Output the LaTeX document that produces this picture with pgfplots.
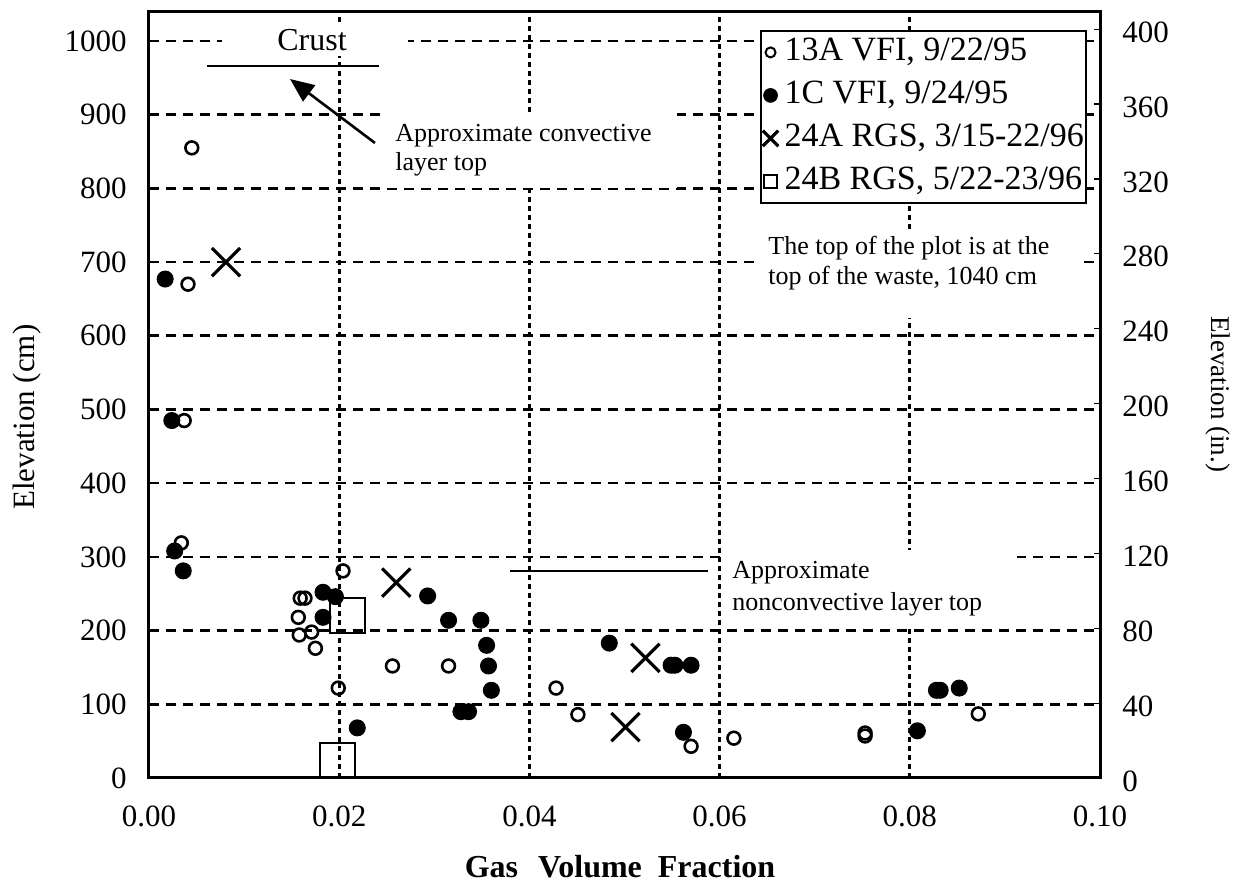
\documentclass[border=0pt]{standalone}
\usepackage{fontspec}
\setmainfont{Liberation Serif}
\usepackage{pgfplots}
\pgfplotsset{compat=1.18}
\usetikzlibrary{arrows.meta}

\pgfplotsset{
  lgd/.style={only marks,
    legend image code/.code={\path[draw=none,fill=none] (0pt,-4pt) rectangle (8pt,4pt);
      \draw[##1] plot coordinates {(4pt,0pt)};}},
}

\begin{document}
\begin{tikzpicture}
\path[use as bounding box] (-74.5pt,-52pt) rectangle (545pt,389pt);

% right axis: inches
\begin{axis}[at={(0,0)}, anchor=south west,
  scale only axis, width=475.5pt, height=383.25pt,
  xmin=0, xmax=0.1, ymin=0, ymax=409.45,
  axis x line=none, axis y line*=right,
  ytick={0,40,...,400}, major tick length=3pt,
  tick style={black,line width=0.6pt},
  axis line style={line width=1.4pt},
  tick label style={font=\fontsize{15.5}{18}\selectfont},
  /pgf/number format/assume math mode=true,
  yticklabel style={anchor=west,inner sep=0pt,xshift=11pt,yshift=-1.5pt},
  ylabel={Elevation (in.)},
  every axis y label/.style={at={(axis description cs:1.1241,0.5007)},
    anchor=center,rotate=-90,font=\fontsize{13.5}{16}\selectfont}]
\addplot[draw=none] coordinates {(0,0)};
\end{axis}

% main axis: cm
\begin{axis}[at={(0,0)}, anchor=south west,
  scale only axis, width=475.5pt, height=383.25pt,
  xmin=0, xmax=0.1, ymin=0, ymax=1040,
  xtick={0,0.02,0.04,0.06,0.08,0.1},
  xticklabels={0.00,0.02,0.04,0.06,0.08,0.10},
  ytick={0,100,...,1000},
  major tick length=0pt,
  grid=major,
  major x grid style={black,line width=1.4pt,dash pattern=on 2.5pt off 2pt},
  major y grid style={black,line width=1.3pt,dash pattern=on 5pt off 3.5pt},
  axis line style={line width=1.5pt},
  tick label style={font=\fontsize{15.5}{18}\selectfont},
  /pgf/number format/assume math mode=true,
  /pgf/number format/1000 sep={},
  xticklabel style={anchor=north,inner sep=0pt,yshift=-13.5pt},
  yticklabel style={anchor=east,inner sep=0pt,xshift=-11pt},
  xlabel={\bfseries Gas\hspace{10pt}Volume\hspace{8pt}Fraction},
  every axis x label/.style={at={(axis description cs:0.4953,0)},
    anchor=base,yshift=-50pt,font=\fontsize{16}{18}\selectfont},
  ylabel={Elevation (cm)},
  every axis y label/.style={at={(axis description cs:-0.1283,0.4707)},
    anchor=center,rotate=90,font=\fontsize{15.5}{18}\selectfont},
  clip=false,
  legend style={at={(axis cs:0.0642,1015)},anchor=north west,
    draw=black,line width=1pt,fill=white,
    inner xsep=1pt,inner ysep=2.75pt,row sep=5.5pt,column sep=3pt,
    font=\fontsize{17}{20}\selectfont,
    nodes={inner sep=0pt,text height=12pt,text depth=4pt},
    cells={anchor=west}},
]

% 13A VFI, 9/22/95
\addplot[only marks,mark=o,mark size=3.2pt,line width=1.3pt,forget plot]
  coordinates {
  (0.0045,855) (0.0041,670) (0.0037,485) (0.0034,319)
  (0.0159,244) (0.0164,244) (0.0157,218) (0.0158,194)
  (0.0171,198) (0.0175,176) (0.0204,281) (0.0199,122)
  (0.0256,152) (0.0315,152) (0.0428,122) (0.0451,86)
  (0.0570,43) (0.0615,54) (0.0753,61) (0.0753,57)
  (0.0872,87)};

% 1C VFI, 9/24/95
\addplot[only marks,mark=*,mark size=4pt,line width=0.5pt,forget plot]
  coordinates {
  (0.0017,677) (0.0024,485) (0.0027,308) (0.0036,281)
  (0.0183,252) (0.0196,246) (0.0183,218) (0.0219,68)
  (0.0293,247) (0.0315,214) (0.0349,214) (0.0355,180)
  (0.0357,152) (0.0360,119) (0.0328,90) (0.0336,90)
  (0.0484,183) (0.0549,153) (0.0553,153) (0.0570,153)
  (0.0562,62) (0.0808,64) (0.0828,119) (0.0832,119)
  (0.0852,122)};

% 24A RGS, 3/15-22/96
\addplot[only marks,mark=x,mark size=10pt,line width=1.6pt,forget plot]
  coordinates {(0.0081,700) (0.0260,265) (0.0522,163) (0.0501,69)};

% 24B RGS, 5/22-23/96
\addplot[only marks,mark=square,mark size=8.75pt,line width=1pt,forget plot]
  coordinates {(0.0209,220) (0.0198,24)};

\addlegendimage{lgd,mark=o,mark size=2.5pt,line width=1pt}
\addlegendentry{13A VFI, 9/22/95}
\addlegendimage{lgd,mark=*,mark size=3.5pt,line width=0.3pt}
\addlegendentry{1C VFI, 9/24/95}
\addlegendimage{lgd,mark=x,mark size=5.5pt,line width=1.6pt}
\addlegendentry{24A RGS, 3/15-22/96}
\addlegendimage{lgd,mark=square,mark size=3.2pt,line width=1pt}
\addlegendentry{24B RGS, 5/22-23/96}

% annotations
\fill[white] (axis cs:0.00768,1021.7) rectangle (axis cs:0.02723,979.6);
\node[font=\fontsize{16}{18}\selectfont,inner sep=0pt] at (axis cs:0.01714,1001) {Crust};
\draw[line width=1.3pt] (axis cs:0.0061,966) -- (axis cs:0.02419,966);
\draw[line width=1.3pt,-{Triangle[length=12pt,width=10pt]}]
  (axis cs:0.02376,861.6) -- (axis cs:0.01483,948.4);

\fill[white] (axis cs:0.02482,903.7) rectangle (axis cs:0.05552,800.5);
\node[anchor=west,align=left,inner sep=0pt,font=\fontsize{13}{14.5}\selectfont]
  at (axis cs:0.02587,851.4) {Approximate convective\\layer top};

\fill[white] (axis cs:0.06425,740.8) rectangle (axis cs:0.09811,624.2);
\node[anchor=west,align=left,inner sep=0pt,font=\fontsize{13}{15}\selectfont]
  at (axis cs:0.06509,698.8) {The top of the plot is at the\\top of the waste, 1040 cm};

\fill[white] (axis cs:0.06025,309.4) rectangle (axis cs:0.09127,204.9);
\node[anchor=west,align=left,inner sep=0pt,font=\fontsize{13}{16}\selectfont]
  at (axis cs:0.0613,256.4) {Approximate\\nonconvective layer top};
\draw[line width=1pt] (axis cs:0.03796,280.9) -- (axis cs:0.05878,280.9);
\end{axis}
\end{tikzpicture}
\end{document}
